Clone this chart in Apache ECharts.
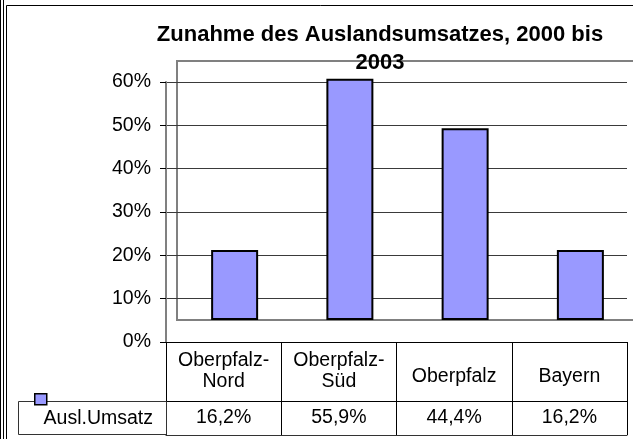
<!DOCTYPE html>
<html><head><meta charset="utf-8">
<script src="https://cdn.jsdelivr.net/npm/echarts@6/dist/echarts.min.js"></script>
<style>html,body{margin:0;padding:0;background:#fff}#c{width:633px;height:439px}</style>
</head><body><div id="c"></div>
<script>
// ---- data ----
const categories = ['Oberpfalz-Nord', 'Oberpfalz-Süd', 'Oberpfalz', 'Bayern'];
const seriesName = 'Ausl.Umsatz';
const values = [16.2, 55.9, 44.4, 16.2];
const yTicks = [0, 10, 20, 30, 40, 50, 60];
const titleLines = ['Zunahme des Auslandsumsatzes, 2000 bis', '2003'];

// ---- helpers ----
const font = 'Arial, "Liberation Sans", sans-serif';
const fmtPct = v => v.toFixed(1).replace('.', ',') + '%';
const barColor = '#9999FF';
const fs = 19.5;

const chart = echarts.init(document.getElementById('c'), null, { renderer: 'canvas' });

const option = {
  backgroundColor: '#ffffff',
  animation: false,
  textStyle: { fontFamily: font },
  title: {
    text: titleLines.join('\n'),
    left: 380,
    top: 21,
    padding: 0,
    textAlign: 'center',
    textStyle: { fontFamily: font, fontSize: 22, fontWeight: 'bold', color: '#000', lineHeight: 28 }
  },
  legend: {
    show: true,
    left: 34,
    top: 393,
    padding: 0,
    icon: 'rect',
    itemWidth: 12,
    itemHeight: 11,
    itemGap: 0,
    formatter: () => '',
    itemStyle: { color: barColor, borderColor: '#000', borderWidth: 1.5 },
    data: [seriesName],
    z: 10
  },
  grid: [
    { left: 166, right: 6, top: 82, bottom: 97, outerBoundsMode: 'none', containLabel: false },
    { left: 177, right: -5, top: 61, bottom: 119, outerBoundsMode: 'none', containLabel: false,
      show: true, borderColor: '#808080', borderWidth: 2, backgroundColor: 'transparent' }
  ],
  xAxis: [
    { gridIndex: 0, type: 'category', data: categories, position: 'bottom',
      axisLine: { show: true, lineStyle: { color: '#000', width: 1 } },
      axisTick: { show: true, interval: 0, length: 93, lineStyle: { color: '#000', width: 1 } },
      axisLabel: { interval: 0, color: '#000', fontSize: fs, lineHeight: 21, margin: 29,
        verticalAlign: 'middle', fontFamily: font,
        formatter: v => v.indexOf('-') >= 0 ? v.replace('-', '-\n') : '{s|' + v + '}',
        rich: { s: { fontSize: fs, fontFamily: font, color: '#000', padding: [12, 0, 0, 0] } } },
      splitLine: { show: false } },
    { gridIndex: 0, type: 'category', data: categories, position: 'bottom', offset: 59,
      axisLine: { show: true, lineStyle: { color: '#000', width: 1 } },
      axisTick: { show: false },
      axisLabel: { interval: 0, color: '#000', fontSize: fs, margin: 17, verticalAlign: 'middle',
        fontFamily: font, formatter: (v, i) => fmtPct(values[i]) },
      splitLine: { show: false } },
    { gridIndex: 0, type: 'category', data: categories, position: 'bottom', offset: 93,
      axisLine: { show: true, lineStyle: { color: '#333', width: 1 } },
      axisTick: { show: false }, axisLabel: { show: false }, splitLine: { show: false } },
    { gridIndex: 1, type: 'category', data: categories, show: false }
  ],
  yAxis: [
    { gridIndex: 0, type: 'value', min: yTicks[0], max: yTicks[yTicks.length - 1],
      interval: yTicks[1] - yTicks[0],
      axisLine: { show: true, lineStyle: { color: '#808080', width: 2 } },
      axisTick: { show: true, length: 6, lineStyle: { color: '#000', width: 1 } },
      axisLabel: { color: '#000', fontSize: fs, margin: 15, fontFamily: font, formatter: '{value}%' },
      splitLine: { show: true, lineStyle: { color: '#3a3a3a', width: 1 } } },
    { gridIndex: 1, type: 'value', min: yTicks[0], max: yTicks[yTicks.length - 1], show: false,
      splitLine: { show: false } }
  ],
  series: [
    { name: seriesName, type: 'bar', xAxisIndex: 3, yAxisIndex: 1, data: values, barWidth: 47,
      itemStyle: { color: barColor, borderColor: '#000', borderWidth: 2 }, z: 3 }
  ],
  graphic: [
    { type: 'line', shape: { x1: 0.5, y1: 0, x2: 0.5, y2: 439 }, style: { stroke: '#000', lineWidth: 1 }, silent: true },
    { type: 'line', shape: { x1: 3.5, y1: 0, x2: 3.5, y2: 439 }, style: { stroke: '#000', lineWidth: 1 }, silent: true },
    { type: 'rect', shape: { x: 6.5, y: 5.5, width: 700, height: 600 }, style: { fill: 'none', stroke: '#000', lineWidth: 1 }, silent: true },
    { type: 'rect', shape: { x: 18.5, y: 401.5, width: 148, height: 33 }, style: { fill: 'none', stroke: '#333', lineWidth: 1 }, silent: true, z: 1 },
    { type: 'text', x: 153, y: 419, style: { text: seriesName, fill: '#000', font: fs + 'px ' + font, textAlign: 'right', textVerticalAlign: 'middle' }, silent: true }
  ]
};
chart.setOption(option);
</script>
</body></html>
